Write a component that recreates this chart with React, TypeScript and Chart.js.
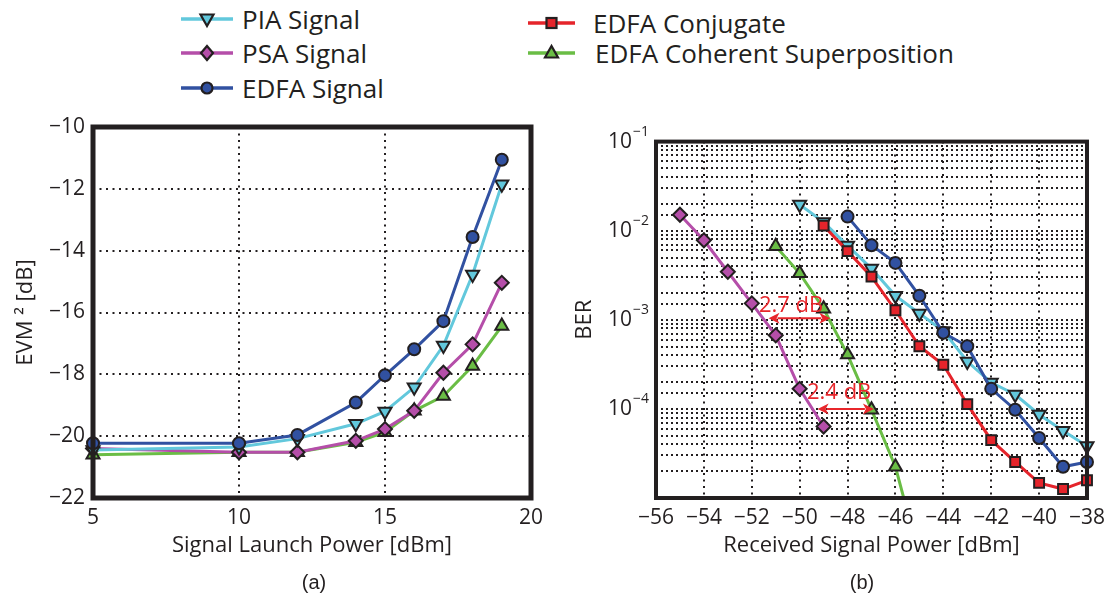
import React, { useEffect, useRef } from 'react';
import { Chart, registerables } from 'chart.js';

Chart.register(...registerables);

const FONT = '"Open Sans", "DejaVu Sans", sans-serif';
const INK = '#231f20';
const C_PIA = '#62c8dc';
const C_PSA = '#b54ea9';
const C_EDFA = '#3151a1';
const C_CONJ = '#e5242b';
const C_COH = '#6abd45';
const C_ANNOT = '#e8262b';

// ---------- legend ----------
const seriesNames = ['PIA Signal', 'PSA Signal', 'EDFA Signal', 'EDFA Conjugate', 'EDFA Coherent Superposition'];

// ---------- (a) EVM vs launch power ----------
const launchPower = [5, 10, 12, 14, 15, 16, 17, 18, 19];
const evmPIA = [-20.45, -20.35, -20.08, -19.6, -19.2, -18.42, -17.07, -14.77, -11.85];
const evmPSA = [-20.4, -20.52, -20.52, -20.15, -19.77, -19.18, -17.95, -17.03, -15.04];
const evmEDFA = [-20.23, -20.23, -19.96, -18.91, -18.03, -17.19, -16.28, -13.56, -11.06];
const evmCoherent = [-20.6, -20.52, -20.52, -20.2, -19.87, -19.18, -18.7, -17.73, -16.44];
const launchAxis = [5, 20, 5]; // min, max, step
const evmAxis = [-22, -10, 2];

// ---------- (b) BER vs received power ----------
const rxPIA = [-50, -49, -48, -47, -46, -45, -44, -43, -42, -41, -40, -39, -38];
const berPIA = [1.97e-2, 1.25e-2, 6.8e-3, 3.76e-3, 1.86e-3, 1.18e-3, 7.5e-4, 3.4e-4, 1.98e-4, 1.45e-4, 8.65e-5, 5.7e-5, 3.84e-5];
const rxPSA = [-55, -54, -53, -52, -51, -50, -49];
const berPSA = [1.51e-2, 7.8e-3, 3.46e-3, 1.53e-3, 6.7e-4, 1.68e-4, 6.35e-5];
const rxEDFA = [-48, -47, -46, -45, -44, -43, -42, -41, -40, -39, -38];
const berEDFA = [1.44e-2, 6.87e-3, 4.35e-3, 1.86e-3, 7.16e-4, 5.05e-4, 1.68e-4, 9.8e-5, 4.72e-5, 2.24e-5, 2.54e-5];
const rxConj = [-49, -48, -47, -46, -45, -44, -43, -42, -41, -40, -39, -38];
const berConj = [1.14e-2, 5.9e-3, 3.05e-3, 1.28e-3, 5.05e-4, 3.13e-4, 1.13e-4, 4.46e-5, 2.54e-5, 1.48e-5, 1.26e-5, 1.58e-5];
const rxCoherent = [-51, -50, -49, -48, -47, -46, -45];
const berCoherent = [6.7e-3, 3.32e-3, 1.33e-3, 4.07e-4, 9.8e-5, 2.24e-5, 2.2e-6];
const rxAxis = [-56, -38, 2];
const berAxis = [1e-5, 1e-1];
const berLabeledExponents = [-1, -2, -3, -4];

// annotations (data coordinates)
const gapLabels = ['2.7 dB', '2.4 dB'];
const gapFromX = [-51.3, -49.25];
const gapToX = [-48.72, -46.9];
const gapY = [1.04e-3, 1.0e-4];
const gapLabelX = [-50.36, -48.35];
const gapLabelY = [1.45e-3, 1.5e-4];

const minus = (v: any) => String(v).replace('-', '\u2212');

const markerPIA = { pointStyle: 'triangle', pointRotation: 180, pointRadius: 7.5 };
const markerPSA = { pointStyle: 'rectRot', pointRotation: 0, pointRadius: 7 };
const markerEDFA = { pointStyle: 'circle', pointRotation: 0, pointRadius: 6 };
const markerConj = { pointStyle: 'rect', pointRotation: 0, pointRadius: 7 };
const markerCoh = { pointStyle: 'triangle', pointRotation: 0, pointRadius: 7.5 };

function makeDataset(label: string, color: string, marker: any, xs: number[], ys: number[], order: number, radii?: number[], clip?: any) {
  return {
    label,
    data: xs.map((x, i) => ({ x, y: ys[i] })),
    borderColor: color,
    backgroundColor: color,
    borderWidth: 3,
    pointStyle: marker.pointStyle,
    pointRotation: marker.pointRotation,
    pointRadius: radii ?? marker.pointRadius,
    pointHoverRadius: radii ?? marker.pointRadius,
    pointBorderColor: INK,
    pointBorderWidth: 2,
    pointBackgroundColor: color,
    tension: 0,
    fill: false,
    order,
    clip: clip ?? false,
  };
}

function boxPlugin(width: number) {
  return {
    id: 'box',
    afterDraw(chart: any) {
      const { ctx, chartArea: a } = chart;
      ctx.save();
      ctx.lineWidth = width;
      ctx.strokeStyle = INK;
      ctx.strokeRect(a.left, a.top, a.right - a.left, a.bottom - a.top);
      ctx.restore();
    },
  };
}

function axisCommon(dash: number[]) {
  return {
    grid: { color: INK, lineWidth: 2, drawTicks: false },
    border: { display: false, dash },
  };
}

function LeftChart() {
  const ref = useRef<HTMLCanvasElement>(null);
  useEffect(() => {
    const chart = new Chart(ref.current!, {
      type: 'line',
      data: {
        datasets: [
          makeDataset(seriesNames[0], C_PIA, markerPIA, launchPower, evmPIA, 2),
          makeDataset(seriesNames[1], C_PSA, markerPSA, launchPower, evmPSA, 3),
          makeDataset(seriesNames[2], C_EDFA, markerEDFA, launchPower, evmEDFA, 1),
          makeDataset(seriesNames[4], C_COH, markerCoh, launchPower, evmCoherent, 4),
        ] as any,
      },
      options: {
        animation: false,
        responsive: false,
        events: [],
        layout: { padding: { top: 22, right: 25, bottom: 0, left: 0 } },
        plugins: { legend: { display: false }, tooltip: { enabled: false } },
        scales: {
          x: {
            type: 'linear',
            min: launchAxis[0],
            max: launchAxis[1],
            ...axisCommon([2, 4.5]),
            ticks: { stepSize: launchAxis[2], padding: 7, color: INK, font: { family: FONT, size: 21 }, callback: minus },
            title: { display: true, text: 'Signal Launch Power [dBm]', color: INK, font: { family: FONT, size: 22 }, padding: { top: 0, bottom: 37 } },
            afterFit: (s: any) => { s.height = 98; },
          },
          y: {
            type: 'linear',
            min: evmAxis[0],
            max: evmAxis[1],
            ...axisCommon([2, 4.5]),
            ticks: { stepSize: evmAxis[2], padding: 8, color: INK, font: { family: FONT, size: 21 }, callback: minus },
            title: { display: true, text: 'EVM \u00b2 [dB]', color: INK, font: { family: FONT, size: 22 }, padding: { top: 12.8, bottom: 0 } },
            afterFit: (s: any) => { s.width = 93; },
          },
        },
      } as any,
      plugins: [boxPlugin(5)],
    });
    return () => chart.destroy();
  }, []);
  return <canvas ref={ref} width={556} height={491} style={{ display: 'block' }} />;
}

function RightChart() {
  const ref = useRef<HTMLCanvasElement>(null);
  useEffect(() => {
    const exponentPlugin = {
      id: 'exponents',
      afterDraw(chart: any) {
        const s = chart.scales.y;
        const ctx = chart.ctx;
        ctx.save();
        ctx.fillStyle = INK;
        ctx.font = `14px ${FONT}`;
        ctx.textAlign = 'left';
        ctx.textBaseline = 'middle';
        berLabeledExponents.forEach((e) => {
          const y = s.getPixelForValue(Math.pow(10, e));
          ctx.fillText('\u2212' + Math.abs(e), s.right - 23, y - 10);
        });
        ctx.restore();
      },
    };
    const gapPlugin = {
      id: 'gaps',
      afterDatasetsDraw(chart: any) {
        const sx = chart.scales.x;
        const sy = chart.scales.y;
        const ctx = chart.ctx;
        ctx.save();
        ctx.strokeStyle = C_ANNOT;
        ctx.fillStyle = C_ANNOT;
        ctx.lineWidth = 2;
        const head = 11;
        const hw = 5.5;
        gapLabels.forEach((label, i) => {
          const x1 = sx.getPixelForValue(gapFromX[i]);
          const x2 = sx.getPixelForValue(gapToX[i]);
          const y = sy.getPixelForValue(gapY[i]);
          ctx.beginPath();
          ctx.moveTo(x1 + head - 2, y);
          ctx.lineTo(x2 - head + 2, y);
          ctx.stroke();
          ctx.beginPath();
          ctx.moveTo(x1, y);
          ctx.lineTo(x1 + head, y - hw);
          ctx.lineTo(x1 + head - 3, y);
          ctx.lineTo(x1 + head, y + hw);
          ctx.closePath();
          ctx.fill();
          ctx.beginPath();
          ctx.moveTo(x2, y);
          ctx.lineTo(x2 - head, y - hw);
          ctx.lineTo(x2 - head + 3, y);
          ctx.lineTo(x2 - head, y + hw);
          ctx.closePath();
          ctx.fill();
          ctx.font = `22px ${FONT}`;
          ctx.textAlign = 'center';
          ctx.textBaseline = 'middle';
          ctx.fillText(label, sx.getPixelForValue(gapLabelX[i]), sy.getPixelForValue(gapLabelY[i]));
        });
        ctx.restore();
      },
    };
    const cohRadii = rxCoherent.map((x) => (x > -46 ? 0 : markerCoh.pointRadius));
    const chart = new Chart(ref.current!, {
      type: 'line',
      data: {
        datasets: [
          makeDataset(seriesNames[0], C_PIA, markerPIA, rxPIA, berPIA, 3),
          makeDataset(seriesNames[1], C_PSA, markerPSA, rxPSA, berPSA, 4),
          makeDataset(seriesNames[2], C_EDFA, markerEDFA, rxEDFA, berEDFA, 1),
          makeDataset(seriesNames[3], C_CONJ, markerConj, rxConj, berConj, 2),
          makeDataset(seriesNames[4], C_COH, markerCoh, rxCoherent, berCoherent, 5, cohRadii, { left: false, right: false, top: false, bottom: 0 }),
        ] as any,
      },
      options: {
        animation: false,
        responsive: false,
        events: [],
        layout: { padding: { top: 23, right: 23, bottom: 0, left: 0 } },
        plugins: { legend: { display: false }, tooltip: { enabled: false } },
        scales: {
          x: {
            type: 'linear',
            min: rxAxis[0],
            max: rxAxis[1],
            ...axisCommon([2, 4.5]),
            ticks: { stepSize: rxAxis[2], padding: 7, color: INK, font: { family: FONT, size: 21 }, callback: minus },
            title: { display: true, text: 'Received Signal Power [dBm]', color: INK, font: { family: FONT, size: 22 }, padding: { top: 0, bottom: 37 } },
            afterFit: (s: any) => { s.height = 98; },
          },
          y: {
            type: 'logarithmic',
            min: berAxis[0],
            max: berAxis[1],
            ...axisCommon([2, 3]),
            ticks: {
              autoSkip: false,
              padding: 24,
              color: INK,
              font: { family: FONT, size: 21 },
              callback: (v: any) => {
                const n = Number(v);
                const e = Math.round(Math.log10(n));
                return Math.abs(n / Math.pow(10, e) - 1) < 1e-6 && berLabeledExponents.includes(e) ? '10' : '';
              },
            },
            title: { display: true, text: 'BER', color: INK, font: { family: FONT, size: 22 }, padding: { top: 16, bottom: 0 } },
            afterFit: (s: any) => { s.width = 100; },
          },
        },
      } as any,
      plugins: [gapPlugin, boxPlugin(4), exponentPlugin],
    });
    return () => chart.destroy();
  }, []);
  return <canvas ref={ref} width={556} height={491} style={{ display: 'block' }} />;
}

function Marker({ kind, color, cx, cy }: { kind: string; color: string; cx: number; cy: number }) {
  const common = { fill: color, stroke: INK, strokeWidth: 2.2 };
  if (kind === 'down') {
    return <polygon points={`${cx},${cy + 7} ${cx - 6.5},${cy - 4.5} ${cx + 6.5},${cy - 4.5}`} {...common} />;
  }
  if (kind === 'up') {
    return <polygon points={`${cx},${cy - 7} ${cx - 6.5},${cy + 4.5} ${cx + 6.5},${cy + 4.5}`} {...common} />;
  }
  if (kind === 'diamond') {
    return <polygon points={`${cx},${cy - 7} ${cx + 6},${cy} ${cx},${cy + 7} ${cx - 6},${cy}`} {...common} />;
  }
  if (kind === 'square') {
    return <rect x={cx - 5} y={cy - 5} width={10} height={10} {...common} />;
  }
  return <circle cx={cx} cy={cy} r={5.5} {...common} />;
}

const legendItems = [
  { name: seriesNames[0], color: C_PIA, kind: 'down', x: 181, len: 52, gap: 9, y: 19 },
  { name: seriesNames[1], color: C_PSA, kind: 'diamond', x: 181, len: 52, gap: 9, y: 53 },
  { name: seriesNames[2], color: C_EDFA, kind: 'circle', x: 181, len: 52, gap: 9, y: 87.5 },
  { name: seriesNames[3], color: C_CONJ, kind: 'square', x: 528, len: 47, gap: 18, y: 22.5 },
  { name: seriesNames[4], color: C_COH, kind: 'up', x: 528, len: 47, gap: 20, y: 53 },
];

export default function App() {
  return (
    <div style={{ position: 'absolute', left: 0, top: 0, width: 1112, height: 596, background: '#fff', overflow: 'hidden' }}>
      {legendItems.map((it) => (
        <div
          key={it.name}
          style={{ position: 'absolute', left: it.x, top: it.y - 15, height: 30, display: 'flex', alignItems: 'center', whiteSpace: 'nowrap' }}
        >
          <svg width={it.len} height={30} style={{ display: 'block' }}>
            <line x1={0} y1={15} x2={it.len} y2={15} stroke={it.color} strokeWidth={3.5} />
            <Marker kind={it.kind} color={it.color} cx={it.len / 2} cy={15} />
          </svg>
          <span style={{ marginLeft: it.gap, fontFamily: FONT, fontSize: 26, lineHeight: '30px', color: INK }}>{it.name}</span>
        </div>
      ))}
      <div style={{ position: 'absolute', left: 0, top: 105, width: 556, height: 491 }}>
        <LeftChart />
      </div>
      <div style={{ position: 'absolute', left: 556, top: 105, width: 556, height: 491 }}>
        <RightChart />
      </div>
      <div style={{ position: 'absolute', left: 264, top: 570, width: 100, textAlign: 'center', fontFamily: '"Liberation Sans", Arial, sans-serif', fontSize: 20, lineHeight: '24px', color: INK }}>(a)</div>
      <div style={{ position: 'absolute', left: 812, top: 570, width: 100, textAlign: 'center', fontFamily: '"Liberation Sans", Arial, sans-serif', fontSize: 20, lineHeight: '24px', color: INK }}>(b)</div>
    </div>
  );
}
